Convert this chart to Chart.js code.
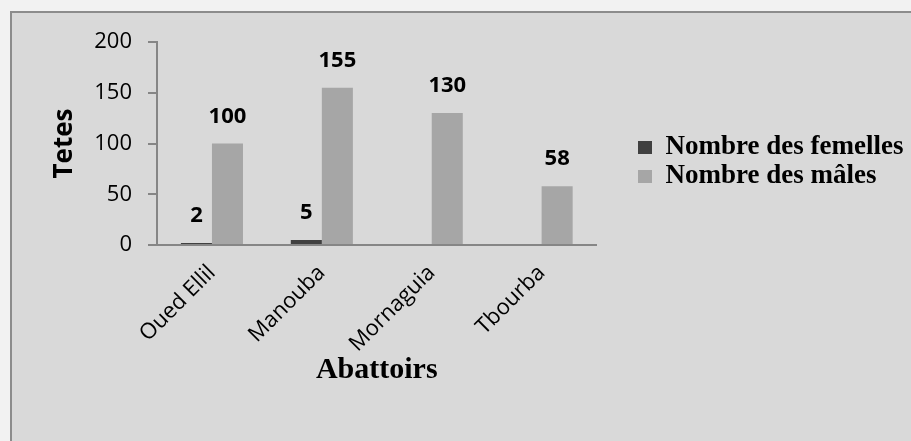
<!DOCTYPE html>
<html>
<head>
<meta charset="utf-8">
<script src="https://cdn.jsdelivr.net/npm/chart.js@4/dist/chart.umd.min.js"></script>
<style>
  html, body { margin: 0; padding: 0; background: #f2f2f2; }
  #frame {
    position: absolute; left: 10px; top: 11px; width: 920px; height: 450px;
    background: #d9d9d9; border: 2px solid #8c8c8c;
  }
  #chart { position: absolute; left: 0; top: 0; }
</style>
</head>
<body>
<div id="frame"></div>
<canvas id="chart" width="911" height="441"></canvas>
<script>
// Data
var abattoirs = ['Oued Ellil', 'Manouba', 'Mornaguia', 'Tbourba'];
var femelles = [2, 5, null, null];
var males = [100, 155, 130, 58];
var yTicks = [0, 50, 100, 150, 200];

var sans = "'Open Sans', sans-serif";
var serif = "'Liberation Serif', 'Times New Roman', serif";

// Value labels above the bars
var valueLabels = {
	id: 'valueLabels',
	afterDatasetsDraw: function(chart) {
		var ctx = chart.ctx;
		ctx.save();
		ctx.font = 'bold 22px ' + sans;
		ctx.fillStyle = '#000';
		ctx.textAlign = 'center';
		ctx.textBaseline = 'middle';
		chart.data.datasets.forEach(function(ds, i) {
			var meta = chart.getDatasetMeta(i);
			meta.data.forEach(function(bar, j) {
				var v = ds.data[j];
				if (v === null || v === 0) return;
				ctx.fillText(String(v), bar.x, bar.y - 27);
			});
		});
		ctx.restore();
	}
};

// Move the legend to where the reference has it
var legendSpot = {
	id: 'legendSpot',
	afterLayout: function(chart) {
		var lg = chart.legend;
		var w = lg.right - lg.left, h = lg.bottom - lg.top;
		lg.left = 636; lg.right = lg.left + w;
		lg.top = 132; lg.bottom = lg.top + h;
	}
};

var ctx = document.getElementById('chart').getContext('2d');
var chart = new Chart(ctx, {
	type: 'bar',
	data: {
		labels: abattoirs,
		datasets: [{
			label: 'Nombre des femelles',
			data: femelles,
			backgroundColor: '#404040',
			borderWidth: 0,
			categoryPercentage: 0.565,
			barPercentage: 1.0
		}, {
			label: 'Nombre des mâles',
			data: males,
			backgroundColor: '#a6a6a6',
			borderWidth: 0,
			categoryPercentage: 0.565,
			barPercentage: 1.0
		}]
	},
	options: {
		responsive: false,
		animation: false,
		layout: { padding: { left: 49, top: 42, right: 37, bottom: 53 } },
		plugins: {
			tooltip: { enabled: false },
			legend: {
				position: 'right',
				align: 'start',
				maxWidth: 320,
				labels: {
					boxWidth: 14,
					boxHeight: 13,
					padding: 2,
					color: '#000',
					font: { family: serif, size: 27, weight: 'bold' }
				}
			}
		},
		scales: {
			x: {
				grid: { display: false },
				border: { display: true, color: '#868686', width: 2 },
				ticks: {
					color: '#000',
					font: { family: sans, size: 22 },
					minRotation: 45,
					maxRotation: 45,
					padding: 7
				},
				title: {
					display: true,
					text: 'Abattoirs',
					color: '#000',
					font: { family: serif, size: 30, weight: 'bold' },
					padding: 0
				},
				afterFit: function(s) { s.height = 143; }
			},
			y: {
				min: 0,
				max: 200,
				afterBuildTicks: function(s) { s.ticks = yTicks.map(function(v) { return { value: v }; }); },
				grid: { drawOnChartArea: false, tickLength: 9, color: '#868686', lineWidth: 2 },
				border: { color: '#868686', width: 2 },
				ticks: {
					color: '#000',
					font: { family: sans, size: 22 },
					padding: 16
				},
				title: {
					display: true,
					text: 'Tetes',
					color: '#000',
					font: { family: sans, size: 26, weight: 'bold' },
					padding: 0
				},
				afterFit: function(s) { s.width = 108; }
			}
		}
	},
	plugins: [valueLabels, legendSpot]
});
</script>
</body>
</html>
